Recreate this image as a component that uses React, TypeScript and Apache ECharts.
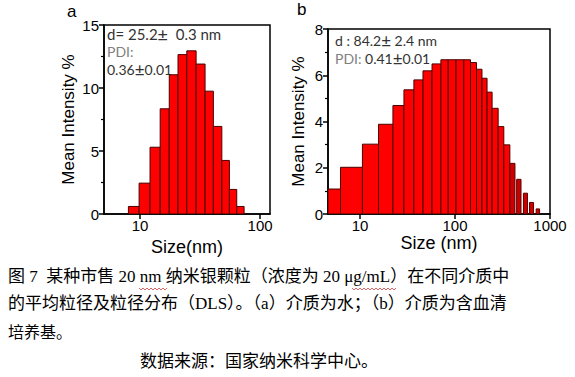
import React, { useEffect, useRef } from "react";
import * as echarts from "echarts";

// ---- Data ----
// Panel a: DLS size distribution in water (bin edges in nm, mean intensity %)
const binLowA = [7.99, 9.81, 12.1, 14.7, 17.5, 20.7, 24.5, 29.3, 34.8, 40.8, 48.0, 55.5, 63.9];
const binHighA = [9.81, 12.1, 14.7, 17.5, 20.7, 24.5, 29.3, 34.8, 40.8, 48.0, 55.5, 63.9, 73.6];
const intensityA = [0.6, 2.45, 5.3, 8.35, 11.05, 12.65, 12.95, 11.9, 9.75, 6.95, 4.25, 1.95, 0.6];

// Panel b: DLS size distribution in serum-containing medium
const binLowB = [4.6, 6.23, 10.6, 15.65, 22.2, 29.0, 36.9, 46.0, 57.3, 71.0, 84.8, 102.5, 123.8, 145.5, 168.5, 192.3, 217.4, 245.7, 284.6, 326.4];
const binHighB = [6.23, 10.6, 15.65, 22.2, 29.0, 36.9, 46.0, 57.3, 71.0, 84.8, 102.5, 123.8, 145.5, 168.5, 192.3, 217.4, 245.7, 284.6, 326.4, 378];
const intensityB = [1.08, 2.02, 3.02, 3.88, 4.69, 5.37, 5.8, 6.19, 6.49, 6.67, 6.67, 6.67, 6.67, 6.55, 6.26, 5.87, 5.27, 4.57, 3.78, 2.99];
const tailLowB = [378, 445.6, 525.1, 608.3, 715];
const tailHighB = [427.6, 495.1, 579.2, 670.9, 777];
const tailIntensityB = [2.19, 1.5, 0.9, 0.5, 0.22];

const xTicksA = [10, 100];
const xTicksB = [10, 100, 1000];

const captionLines = [
  "图 7  某种市售 20 nm 纳米银颗粒（浓度为 20 μg/mL）在不同介质中",
  "的平均粒径及粒径分布（DLS）。（a）介质为水；（b）介质为含血清",
  "培养基。",
];
const sourceLine = "数据来源：国家纳米科学中心。";

const SANS = "Liberation Sans, Arial, sans-serif";
const NOTE = "Lato, 'Open Sans', sans-serif";
const CAP = "'Liberation Serif', 'Noto Sans CJK SC', serif";

function zip3(a: number[], b: number[], c: number[]) {
  return a.map((v, i) => [v, b[i], c[i]]);
}

function barRenderer(fill: string, stroke: string) {
  return (_params: any, api: any) => {
    const p0 = api.coord([api.value(0), api.value(2)]);
    const p1 = api.coord([api.value(1), 0]);
    return {
      type: "rect",
      shape: { x: p0[0], y: p0[1], width: p1[0] - p0[0], height: p1[1] - p0[1] },
      style: { fill, stroke, lineWidth: 1 },
    };
  };
}

function xAxisOpt(grid: number, min: number, max: number, ticks: number[], name: string, gap: number) {
  return {
    type: "log",
    logBase: 10,
    gridIndex: grid,
    min,
    max,
    name,
    nameLocation: "middle",
    nameGap: gap,
    nameTextStyle: { fontSize: 18, color: "#000", fontFamily: SANS },
    axisLine: { show: true, onZero: false, lineStyle: { color: "#000", width: 1.5 } },
    axisTick: { show: true, inside: false, length: 5, customValues: ticks, lineStyle: { color: "#000", width: 1.5 } },
    axisLabel: {
      show: true,
      customValues: ticks,
      fontSize: 15,
      color: "#000",
      fontFamily: SANS,
      margin: 4,
      formatter: (v: number) => String(Math.round(v)),
    },
    minorTick: { show: false },
    splitLine: { show: false },
    minorSplitLine: { show: false },
  };
}

function yAxisOpt(grid: number, max: number, interval: number, gap: number) {
  return {
    type: "value",
    gridIndex: grid,
    min: 0,
    max,
    interval,
    name: "Mean Intensity %",
    nameLocation: "middle",
    nameGap: gap,
    nameTextStyle: { fontSize: 17, color: "#000", fontFamily: SANS },
    axisLine: { show: true, onZero: false, lineStyle: { color: "#000", width: 1.5 } },
    axisTick: { show: true, inside: false, length: 5, lineStyle: { color: "#000", width: 1.5 } },
    minorTick: { show: true, splitNumber: 2, length: 3, lineStyle: { color: "#000", width: 1.2 } },
    axisLabel: { fontSize: 15, color: "#000", fontFamily: SANS, margin: 5 },
    splitLine: { show: false },
  };
}

function squiggle(x0: number, x1: number, y: number) {
  const pts: number[][] = [];
  let up = true;
  for (let x = x0; x <= x1; x += 2) {
    pts.push([x, up ? y - 1 : y + 1]);
    up = !up;
  }
  return {
    type: "polyline",
    shape: { points: pts },
    style: { stroke: "#d04040", lineWidth: 0.8, fill: "none" },
    silent: true,
  };
}

export default function App() {
  const ref = useRef<HTMLDivElement>(null);

  useEffect(() => {
    document.body.style.margin = "0";
    if (!ref.current) return;
    const chart = echarts.init(ref.current, null, { renderer: "svg" });

    const note = (text: string, x: number, y: number, size: number) => ({
      type: "text",
      left: x,
      top: y,
      style: {
        text,
        fontSize: size,
        fontFamily: NOTE,
        fill: "#333",
        rich: {
          g: { fontSize: size, fontFamily: NOTE, fill: "#808080", color: "#808080" },
          d: { fontSize: size, fontFamily: NOTE, fill: "#333", color: "#333" },
          pm: { fontSize: size + 3, fontFamily: NOTE, fill: "#333", color: "#333" },
        },
      },
    });

    chart.setOption({
      animation: false,
      backgroundColor: "#fff",
      grid: [
        { left: 104, top: 25, width: 166, height: 189, show: true, borderColor: "#000", borderWidth: 1.5, backgroundColor: "transparent" },
        { left: 328, top: 29, width: 222, height: 185, show: true, borderColor: "#000", borderWidth: 1.5, backgroundColor: "transparent" },
      ],
      xAxis: [
        xAxisOpt(0, 5, 121, xTicksA, "Size(nm)", 23),
        xAxisOpt(1, 4.6, 1000, xTicksB, "Size (nm)", 19),
      ],
      yAxis: [yAxisOpt(0, 15, 5, 27), yAxisOpt(1, 8, 2, 21)],
      series: [
        {
          type: "custom",
          xAxisIndex: 0,
          yAxisIndex: 0,
          clip: true,
          encode: { x: [0, 1], y: 2 },
          data: zip3(binLowA, binHighA, intensityA),
          renderItem: barRenderer("#ff0000", "#4a0000"),
        },
        {
          type: "custom",
          xAxisIndex: 1,
          yAxisIndex: 1,
          clip: true,
          encode: { x: [0, 1], y: 2 },
          data: zip3(binLowB, binHighB, intensityB),
          renderItem: barRenderer("#ff0000", "#4a0000"),
        },
        {
          type: "custom",
          xAxisIndex: 1,
          yAxisIndex: 1,
          clip: true,
          encode: { x: [0, 1], y: 2 },
          data: zip3(tailLowB, tailHighB, tailIntensityB),
          renderItem: barRenderer("#cc0000", "#5a0000"),
        },
      ],
      graphic: [
        { type: "text", left: 67, top: 3, style: { text: "a", fontSize: 17, fontFamily: SANS, fill: "#000" } },
        { type: "text", left: 297, top: 1, style: { text: "b", fontSize: 17, fontFamily: SANS, fill: "#000" } },
        note("{d|d= 25.2}{pm|±}{d|  0.3 nm}", 107, 25, 15),
        note("{g|PDI:}", 107, 44, 14),
        note("{d|0.36}{pm|±}{d|0.01}", 107, 61, 14),
        note("{d|d : 84.2}{pm|±}{d| 2.4 nm}", 335, 32, 14),
        note("{g|PDI: }{d|0.41}{pm|±}{d|0.01}", 335, 50, 14),
        { type: "text", left: 8, top: 268, style: { text: captionLines[0], fontSize: 17, fontFamily: CAP, fill: "#000" } },
        { type: "text", left: 8, top: 295, style: { text: captionLines[1], fontSize: 17, fontFamily: CAP, fill: "#000" } },
        { type: "text", left: 8, top: 324, style: { text: captionLines[2], fontSize: 16, fontFamily: CAP, fill: "#000" } },
        { type: "text", left: 140, top: 353, style: { text: sourceLine, fontSize: 17, fontFamily: CAP, fill: "#000" } },
        squiggle(139, 168, 289),
        squiggle(352, 396, 289),
      ],
    });

    return () => chart.dispose();
  }, []);

  return <div ref={ref} style={{ width: 575, height: 377 }} />;
}
